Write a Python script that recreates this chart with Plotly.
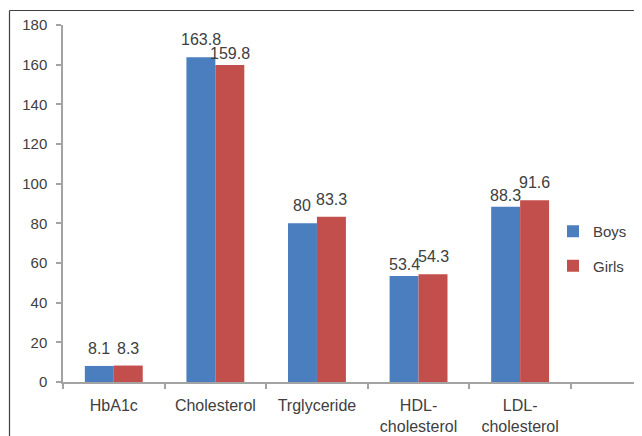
import plotly.graph_objects as go

categories = ["HbA1c", "Cholesterol", "Trglyceride", "HDL-<br>cholesterol", "LDL-<br>cholesterol"]
boys = [8.1, 163.8, 80, 53.4, 88.3]
girls = [8.3, 159.8, 83.3, 54.3, 91.6]
series_names = ["Boys", "Girls"]
y_ticks = [0, 20, 40, 60, 80, 100, 120, 140, 160, 180]

OFF = 8  # page body margin
W, H = 642 - OFF, 436 - OFF
ML, MR, MT, MB = 63 - OFF, 1, 25 - OFF, 436 - 382
BLUE = "#4A7EBF"
RED = "#C34F4C"
TXT = "#404040"
AX = "#A3A3A3"
FONT = "Liberation Sans, Arial, sans-serif"
LABEL_SIZE = 16

bargap = 0.43
xrange_ = [-0.5, 5.19]
pw = W - ML - MR
ph = H - MT - MB
px_per_cat = pw / (xrange_[1] - xrange_[0])
bar_px = (1 - bargap) / 2 * px_per_cat


def px_x(p):
    return (p - OFF - ML) / pw


def px_y(p):
    return (H - MB - (p - OFF)) / ph


def text_w(s):
    return sum((0.278 if ch == "." else 0.556) for ch in s) * LABEL_SIZE


fig = go.Figure()
fig.add_trace(go.Bar(name=series_names[0], x=categories, y=boys, marker_color=BLUE,
                     marker_line_width=0, legendgroup="a"))
fig.add_trace(go.Bar(name=series_names[1], x=categories, y=girls, marker_color=RED,
                     marker_line_width=0, legendgroup="b"))

BASE_SHIFT = 7
LOW_SHIFT = 1
annotations = []
for c, b, g in zip(categories, boys, girls):
    tb, tg = f"{b:g}", f"{g:g}"
    collide = (text_w(tb) + text_w(tg)) / 2 > bar_px
    for v, t, sign, other in ((b, tb, -1, g), (g, tg, 1, b)):
        ys = LOW_SHIFT if (collide and v < other) else BASE_SHIFT
        annotations.append(dict(x=c, y=v, xref="x", yref="y", text=t, showarrow=False,
                                xanchor="center", yanchor="bottom", xshift=sign * bar_px / 2,
                                yshift=ys, font=dict(family=FONT, size=LABEL_SIZE, color=TXT)))

shapes = [
    dict(type="line", xref="paper", yref="paper", x0=px_x(9.5), x1=px_x(660),
         y0=px_y(10.5), y1=px_y(10.5), line=dict(color="#404040", width=1.2)),
    dict(type="line", xref="paper", yref="paper", x0=px_x(9.5), x1=px_x(9.5),
         y0=px_y(10.5), y1=px_y(460), line=dict(color="#404040", width=1.2)),
]

fig.update_layout(
    width=W, height=H,
    margin=dict(l=ML, r=MR, t=MT, b=MB, autoexpand=False),
    paper_bgcolor="white", plot_bgcolor="white",
    barmode="group", bargap=bargap, bargroupgap=0,
    font=dict(family=FONT, size=15, color=TXT),
    showlegend=True,
    legend=dict(x=px_x(553), y=px_y(215), xanchor="left", yanchor="top",
                font=dict(family=FONT, size=15, color=TXT), traceorder="grouped",
                tracegroupgap=12, bgcolor="rgba(0,0,0,0)"),
    annotations=annotations,
    shapes=shapes,
    xaxis=dict(type="category", range=xrange_, showline=True, linecolor=AX, linewidth=1.5,
               ticks="outside", tickson="boundaries", ticklen=5, tickcolor=AX, tickwidth=1.5,
               showgrid=False, zeroline=False, ticklabelstandoff=8,
               tickfont=dict(family=FONT, size=16, color=TXT)),
    yaxis=dict(range=[0, 180], tickvals=y_ticks, showline=True, linecolor=AX, linewidth=1.5,
               ticks="outside", ticklen=5, tickcolor=AX, tickwidth=1.5,
               showgrid=False, zeroline=False, ticklabelstandoff=6,
               tickfont=dict(family=FONT, size=15, color=TXT)),
)

fig.write_html("out.html")
